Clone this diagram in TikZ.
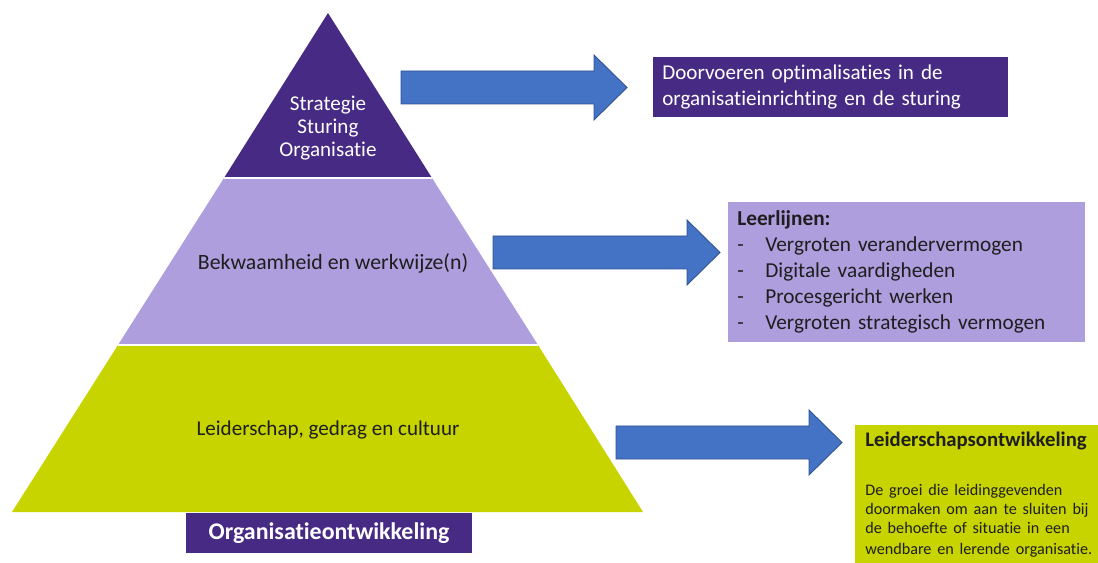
\documentclass[tikz,border=0pt]{standalone}
\usepackage{fontspec}
\setmainfont{Carlito}[Ligatures=NoCommon]
\usetikzlibrary{positioning}
\definecolor{donkerpaars}{HTML}{472A84}
\definecolor{lichtpaars}{HTML}{AE9EDD}
\definecolor{geelgroen}{HTML}{C8D400}
\definecolor{pijlblauw}{HTML}{4472C4}
\definecolor{pijlrand}{HTML}{2F528F}
\definecolor{tekst}{HTML}{1E1E1E}
\tikzset{
  blokpijl/.style={fill=pijlblauw,draw=pijlrand,line width=0.5pt},
  laagtekst/.style={align=center,text=tekst,font=\fontsize{12}{13.3}\selectfont},
  kader/.style={anchor=north west,inner xsep=0.18cm,inner ysep=0pt,align=left}
}
% blokpijl: start x, midden y, punt x
\newcommand\blokpijl[3]{%
  \filldraw[blokpijl] (#1,#2-16.5) -- (#3-33,#2-16.5) -- (#3-33,#2-32.5) -- (#3,#2)
    -- (#3-33,#2+32.5) -- (#3-33,#2+16.5) -- (#1,#2+16.5) -- cycle;}
\begin{document}
\begin{tikzpicture}[x=0.02cm,y=-0.02cm]
\useasboundingbox (0,0) rectangle (1098,563);
% piramide
\coordinate (T) at (328,13);
\coordinate (A1) at (224,178); \coordinate (B1) at (432,178);
\coordinate (A2) at (118,345); \coordinate (B2) at (538,345);
\coordinate (A3) at (12,512); \coordinate (B3) at (643,512);
\fill[geelgroen] (A2)--(B2)--(B3)--(A3)--cycle;
\fill[lichtpaars] (A1)--(B1)--(B2)--(A2)--cycle;
\fill[donkerpaars] (T)--(B1)--(A1)--cycle;
\draw[white,line width=1pt] (A1)--(B1) (A2)--(B2);
\node[laagtekst,text=white] (top) at (328,128) {Strategie\\Sturing\\Organisatie};
\node[laagtekst,font=\fontsize{12.4}{14}\selectfont] (midden) at (333,263) {Bekwaamheid en werkwijze(n)};
\node[laagtekst] (basis) at (328,430) {Leiderschap, gedrag en cultuur};
\node[fill=donkerpaars,text=white,minimum width=5.72cm,minimum height=0.8cm,
  font=\bfseries\fontsize{13.6}{15}\selectfont] (org) at (329,533) {Organisatieontwikkeling};
% pijlen
\blokpijl{401}{87.5}{627}
\blokpijl{493}{252.5}{720}
\blokpijl{616}{442.5}{842}
% kaders
\node[kader,fill=donkerpaars,text=white,minimum width=7.1cm,minimum height=1.2cm,
  text width=6.74cm,font=\fontsize{12}{14.8}\selectfont] (optim) at (653,57)
  {Doorvoeren optimalisaties in de\\organisatieinrichting en de sturing};
\node[kader,fill=lichtpaars,text=tekst,minimum width=7.14cm,minimum height=2.8cm,
  text width=6.78cm,font=\fontsize{12.1}{14.8}\selectfont] (leer) at (728,202)
  {\textbf{Leerlijnen:}\\
   \makebox[0.56cm][l]{-}Vergroten verandervermogen\\
   \makebox[0.56cm][l]{-}Digitale vaardigheden\\
   \makebox[0.56cm][l]{-}Procesgericht werken\\
   \makebox[0.56cm][l]{-}Vergroten strategisch vermogen};
\node[kader,fill=geelgroen,text=tekst,minimum width=4.86cm,minimum height=2.76cm,
  text width=4.6cm,inner xsep=0.2cm] (leider) at (855,425)
  {{\bfseries\fontsize{11.8}{14}\selectfont Leiderschapsontwikkeling}\\[17pt]
   \fontsize{9.2}{10.8}\selectfont
   De groei die leidinggevenden\\doormaken om aan te sluiten bij\\
   de behoefte of situatie in een\\wendbare en lerende organisatie.};
\end{tikzpicture}
\end{document}
